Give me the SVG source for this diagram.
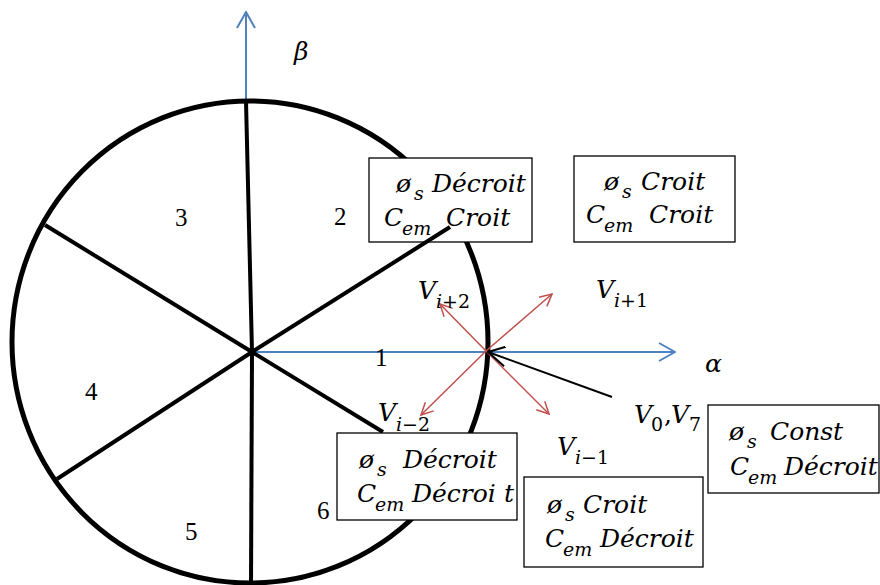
<svg xmlns="http://www.w3.org/2000/svg" width="880" height="585" viewBox="0 0 880 585">
<style>
.m{font-family:"DejaVu Serif","Liberation Serif",serif;font-style:italic;font-size:25px;fill:#000}
.sub{font-size:19px}
.up{font-style:normal}
.num{font-family:"Liberation Serif",serif;font-size:25px;fill:#000}
.box{fill:#fff;stroke:#000;stroke-width:1.3}
.spoke{stroke:#000;stroke-width:4;fill:none;stroke-linecap:butt}
.ax{stroke:#4F81BD;stroke-width:2;fill:none}
.rd{stroke:#C0504D;stroke-width:1.5;fill:none}
</style>
<defs>
<marker id="ab" markerUnits="userSpaceOnUse" viewBox="0 0 18 20" refX="17" refY="10" markerWidth="18" markerHeight="20" orient="auto"><path d="M1,1 L17,10 L1,19" fill="none" stroke="#4F81BD" stroke-width="2"/></marker>
<marker id="ar" markerUnits="userSpaceOnUse" viewBox="0 0 14 14" refX="13" refY="7" markerWidth="14" markerHeight="14" orient="auto"><path d="M1,1 L13,7 L1,13" fill="none" stroke="#C0504D" stroke-width="1.5"/></marker>
<marker id="ak" markerUnits="userSpaceOnUse" viewBox="0 0 22 22" refX="21" refY="11" markerWidth="22" markerHeight="22" orient="auto"><path d="M1,3 L21,11 L6,22" fill="none" stroke="#000" stroke-width="2"/></marker>
</defs>

<g id="connectors">
<line class="ax" x1="246" y1="101" x2="246" y2="12" marker-end="url(#ab)"/>
<line class="ax" x1="254" y1="352" x2="675" y2="352" marker-end="url(#ab)"/>
<ellipse cx="250" cy="342" rx="238" ry="241" fill="none" stroke="#000" stroke-width="5"/>
<line class="spoke" x1="252" y1="352" x2="246" y2="101"/>
<line class="spoke" x1="252" y1="352" x2="251" y2="585"/>
<line class="spoke" x1="252" y1="352" x2="45" y2="225"/>
<line class="spoke" x1="252" y1="352" x2="57" y2="479"/>
<line class="spoke" x1="252" y1="352" x2="383" y2="432"/>
<line class="rd" x1="486" y1="351" x2="552" y2="294" marker-end="url(#ar)"/>
<line class="rd" x1="486" y1="351" x2="440" y2="304" marker-end="url(#ar)"/>
<line class="rd" x1="486" y1="351" x2="421" y2="415" marker-end="url(#ar)"/>
<line class="rd" x1="486" y1="351" x2="549" y2="414" marker-end="url(#ar)"/>
<line x1="612" y1="397" x2="488" y2="352" stroke="#000" stroke-width="2" marker-end="url(#ak)"/>
</g>

<g id="axis-labels">
<text class="m" x="294" y="60">β</text>
<text class="m" x="705" y="372">α</text>
</g>

<g id="sectors">
<text class="num" x="375" y="366">1</text>
<text class="num" x="334" y="225">2</text>
<text class="num" x="175" y="226">3</text>
<text class="num" x="85" y="400">4</text>
<text class="num" x="185" y="540">5</text>
<text class="num" x="317" y="519">6</text>
</g>

<g id="vectors">
<text class="m" x="418" y="299">V</text><text class="m sub" x="436" y="308">i<tspan class="up">+2</tspan></text>
<text class="m" x="596" y="298">V</text><text class="m sub" x="614" y="307">i<tspan class="up">+1</tspan></text>
<text class="m" x="378" y="421">V</text><text class="m sub" x="396" y="431">i<tspan class="up">−2</tspan></text>
<text class="m" x="557" y="455">V</text><text class="m sub" x="575" y="464">i<tspan class="up">−1</tspan></text>
<text class="m" x="634" y="423">V</text><text class="m sub up" x="651" y="431">0</text><text class="m up" x="664" y="423">,</text><text class="m" x="671" y="423">V</text><text class="m sub up" x="689" y="431">7</text>
</g>

<g id="box1">
<rect class="box" x="369" y="158" width="163" height="84"/>
<text class="m" x="396" y="192">ø</text><text class="m sub" x="414" y="200">s</text><text class="m" x="432" y="192">Décroit</text>
<text class="m" x="384" y="226">C</text><text class="m sub" x="402" y="235">em</text><text class="m" x="446" y="226">Croit</text>
</g>
<line class="spoke" x1="252" y1="352" x2="450" y2="227"/>

<g id="box2">
<rect class="box" x="574" y="156" width="161" height="86"/>
<text class="m" x="604" y="190">ø</text><text class="m sub" x="622" y="198">s</text><text class="m" x="641" y="190">Croit</text>
<text class="m" x="586" y="223">C</text><text class="m sub" x="604" y="232">em</text><text class="m" x="649" y="223">Croit</text>
</g>

<g id="box3">
<rect class="box" x="337" y="433" width="180" height="87"/>
<text class="m" x="359" y="468">ø</text><text class="m sub" x="377" y="476">s</text><text class="m" x="403" y="468">Décroit</text>
<text class="m" x="357" y="502">C</text><text class="m sub" x="375" y="511">em</text><text class="m" x="412" y="502">Décroi</text><text class="m" x="504" y="502">t</text>
</g>

<g id="box4">
<rect class="box" x="524" y="477" width="179" height="90"/>
<text class="m" x="547" y="513">ø</text><text class="m sub" x="565" y="521">s</text><text class="m" x="583" y="513">Croit</text>
<text class="m" x="545" y="547">C</text><text class="m sub" x="563" y="556">em</text><text class="m" x="600" y="547">Décroit</text>
</g>

<g id="box5">
<rect class="box" x="708" y="405" width="171" height="88"/>
<text class="m" x="729" y="440">ø</text><text class="m sub" x="747" y="448">s</text><text class="m" x="770" y="440">Const</text>
<text class="m" x="730" y="475">C</text><text class="m sub" x="748" y="484">em</text><text class="m" x="784" y="475">Décroit</text>
</g>
</svg>
